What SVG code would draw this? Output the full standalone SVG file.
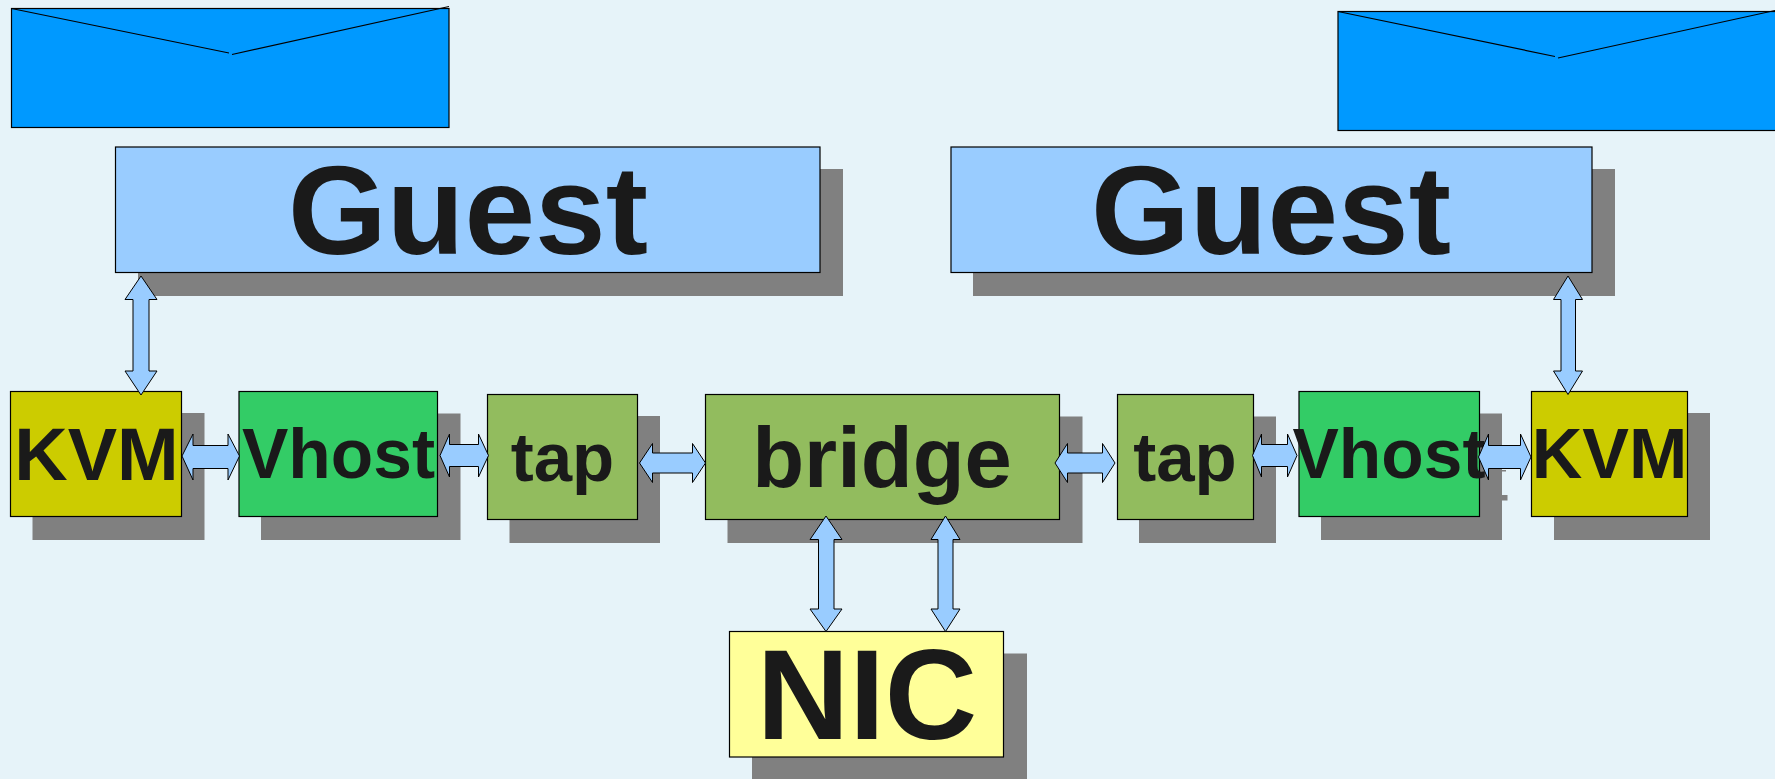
<svg xmlns="http://www.w3.org/2000/svg" width="1775" height="779" viewBox="0 0 1775 779">
<style>
.s{fill:#808080}
.b{stroke:#000;stroke-width:1.2}
.e{fill:#0099ff}
.l{fill:none;stroke:#000;stroke-width:1.2}
.g{fill:#99ccff}
.k{fill:#cccc00}
.v{fill:#33cc66}
.t{fill:#92bc5e}
.n{fill:#ffff99}
.a{fill:#99ccff;stroke:#000;stroke-width:1;stroke-linejoin:miter}
text{font-family:"Liberation Sans",Arial,sans-serif;font-weight:700;fill:#1a1a1a;text-anchor:middle}
</style>
<rect width="1775" height="779" fill="#e6f3f9"/>
<g id="envelope-left"><rect class="e b" x="11.5" y="8.5" width="437.5" height="119"/><path class="l" d="M11.5 8.5L229 53M232 54.5L449 6.5"/></g>
<g id="envelope-right"><rect class="e b" x="1338" y="11.5" width="440" height="119"/><path class="l" d="M1338 11.5L1555 56.5M1558 58L1775 10.5"/></g>
<g id="guest-left"><rect class="s" x="138" y="169" width="705" height="127"/><rect class="g b" x="115.500" y="147" width="704.500" height="125.500"/><text x="468" y="254" font-size="127">Guest</text></g>
<g id="guest-right"><rect class="s" x="973" y="169" width="642" height="127"/><rect class="g b" x="951" y="147" width="641" height="125.500"/><text x="1271" y="254" font-size="127">Guest</text></g>
<g id="kvm-left"><rect class="s" x="32.500" y="413" width="172" height="127"/><rect class="k b" x="10.500" y="391.500" width="171" height="125"/><text x="96.500" y="480" font-size="74">KVM</text></g>
<g id="vhost-left"><rect class="s" x="261" y="413.500" width="199.500" height="126.500"/><rect class="v b" x="239" y="391.500" width="198.500" height="125"/><text x="338.500" y="478" font-size="69.500">Vhost</text></g>
<g id="tap-left"><rect class="s" x="509.500" y="416" width="150.500" height="127"/><rect class="t b" x="487.500" y="394.500" width="150" height="125"/><text x="562.500" y="481" font-size="69">tap</text></g>
<g id="bridge"><rect class="s" x="727.500" y="416.500" width="355" height="126.500"/><rect class="t b" x="705.500" y="394.500" width="354" height="125"/><text x="882" y="487" font-size="85">bridge</text></g>
<g id="tap-right"><rect class="s" x="1139" y="416.500" width="137" height="126.500"/><rect class="t b" x="1117.500" y="394.500" width="136" height="125"/><text x="1185" y="481" font-size="69">tap</text></g>
<g id="vhost-right"><rect class="s" x="1321" y="413.500" width="181" height="126.500"/><rect class="s" x="1502" y="495" width="5.500" height="5.500"/><rect class="s" x="1502" y="470" width="4" height="1.500"/><rect class="v b" x="1299" y="391.500" width="180.500" height="125"/><text x="1389" y="478" font-size="69.500">Vhost</text></g>
<g id="kvm-right"><rect class="s" x="1554" y="413" width="156" height="127"/><rect class="k b" x="1531.500" y="391.500" width="156" height="125"/><text x="1609.500" y="478.300" font-size="70">KVM</text></g>
<g id="nic"><rect class="s" x="752" y="653.500" width="275" height="126"/><rect class="n b" x="729.500" y="631.500" width="274" height="125.500"/><text x="867" y="739" font-size="128">NIC</text></g>
<g id="connectors">
<path class="a" d="M141 276L157 299.500H149V371H157L141 395L125 371H133V299.500H125Z"/>
<path class="a" d="M1568 276L1582.500 299.500H1575.500V371H1582.500L1568 394.500L1553.500 371H1561V299.500H1553.500Z"/>
<path class="a" d="M182 456L193 434V445.500H228V434L239.500 456L228 480V468.500H193V480Z"/>
<path class="a" d="M440 455.500L449.500 434V444.500H478.500V434L488.500 455.500L478.500 477V466.500H449.500V477Z"/>
<path class="a" d="M639.500 463L652.500 443.500V453H692.500V443.500L705.500 463L692.500 482.500V473H652.500V482.500Z"/>
<path class="a" d="M1055 463L1067.500 443.500V453H1102.500V443.500L1115 463L1102.500 482.500V473H1067.500V482.500Z"/>
<path class="a" d="M1252.500 455.500L1261.500 434V444.500H1287.500V434L1297 455.500L1287.500 477V466.500H1261.500V477Z"/>
<path class="a" d="M1478.500 457L1488.500 434V445.500H1520.500V434L1531 457L1520.500 480V468.500H1488.500V480Z"/>
<path class="a" d="M826 516L842 539.500H834V609H842L826 631.500L810 609H818.500V539.500H810Z"/>
<path class="a" d="M945.500 516L960 539.500H953V609H960L945.500 631.500L931 609H938V539.500H931Z"/>
</g>
</svg>
